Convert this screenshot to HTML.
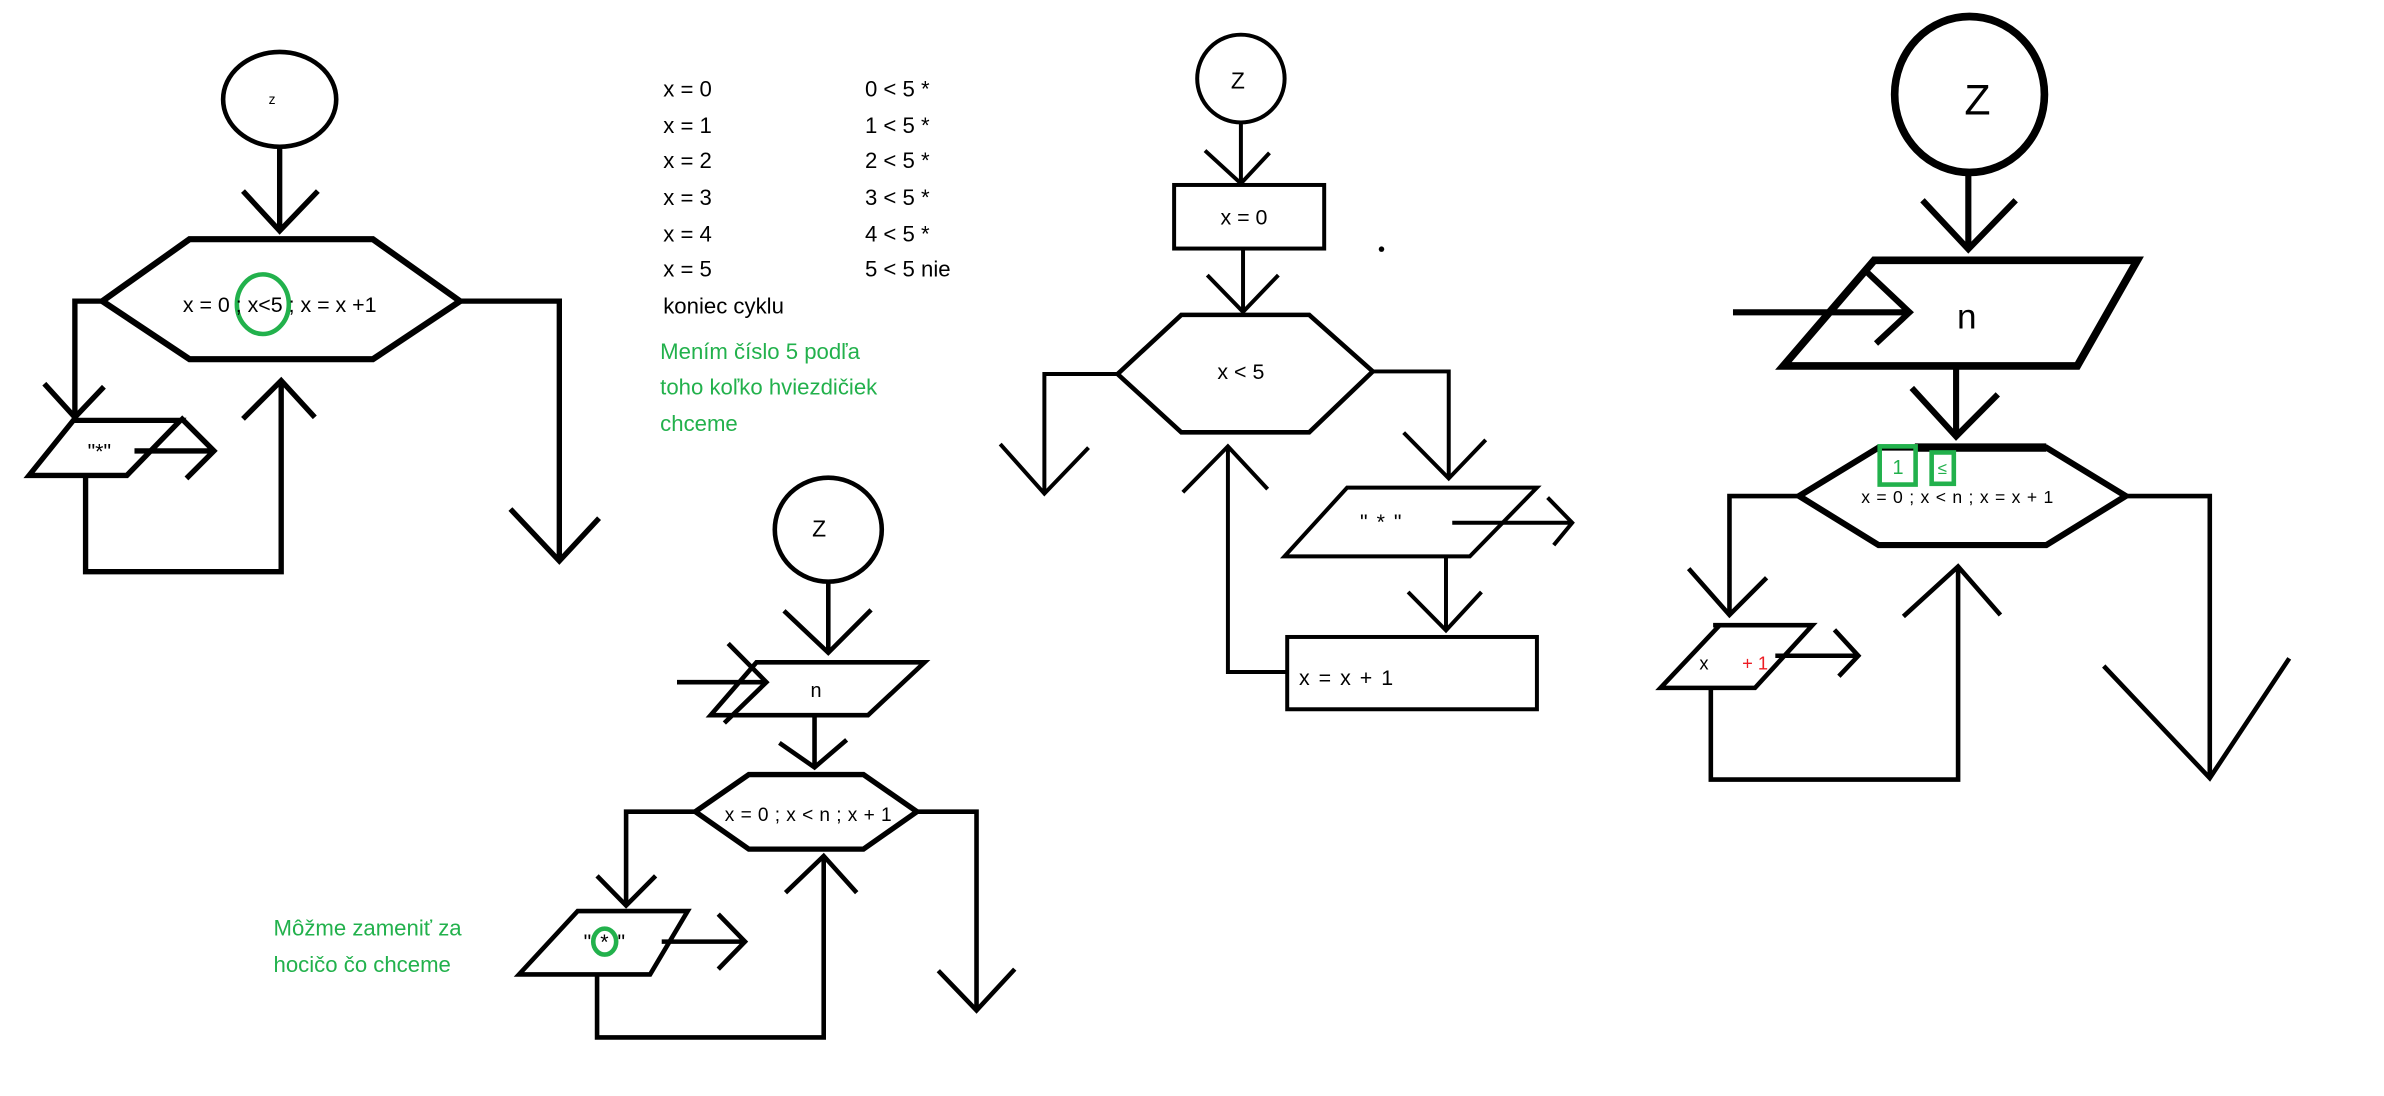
<!DOCTYPE html>
<html><head><meta charset="utf-8"><style>
html,body{margin:0;padding:0;background:#fff;}
svg{display:block;}
text{font-family:"Liberation Sans",sans-serif;fill:#000;}
.g{fill:#22b14c;}
</style></head><body>
<svg width="2384" height="1096" viewBox="0 0 1560 717" preserveAspectRatio="none" xmlns="http://www.w3.org/2000/svg">
<g fill="none" stroke="#000" stroke-linejoin="miter" stroke-linecap="butt">
<!-- Diagram 1 -->
<g stroke-width="3.5">
<ellipse cx="183" cy="65" rx="37" ry="31" stroke-width="3"/>
<path d="M183 96V151M159 125L183 151L208 125"/>
<path d="M67 197L124 156.5H244L301 197L244 235H124Z" stroke-width="4"/>
<path d="M67 197H49V273M29 251L49 273L68 253"/>
<path d="M48 275H118L83 311H19Z"/>
<path d="M88 295H140M118 273L140 295L122 313"/>
<path d="M56 311V374H184V249M159 274L184 249L206 273"/>
<path d="M301 197H366V367M334 333L366 367L392 339"/>
</g>
<ellipse cx="172" cy="199" rx="17" ry="19.5" stroke="#22b14c" stroke-width="3"/>
<!-- Diagram 3 -->
<g stroke-width="3">
<ellipse cx="542" cy="346.5" rx="35" ry="34"/>
<path d="M542 380V427M513 399.6L542 427L570 399"/>
<path d="M495 433.3H605L568 467.9H465Z"/>
<path d="M443 446.3H501.5M476.5 421L501.5 446.3L474 473"/>
<path d="M533 468V502M510 486L533 502L554 484"/>
<path d="M455 531L490 506.7H565L600 531L565 555.5H490Z" stroke-width="3.5"/>
<path d="M455 531H409.7V592.4M390.7 573L409.7 592.4L429 573"/>
<path d="M378 596H450L425.4 637.5H339.6Z"/>
<path d="M433 616H487.5M470 598L487.5 616L470 634"/>
<path d="M390.7 637.5V678.7H539V560M514 584L539 560L560.6 584"/>
<path d="M600 531H639V661M614 635L639 661L664 634"/>
</g>
<ellipse cx="395.7" cy="616" rx="7.5" ry="8.5" stroke="#22b14c" stroke-width="3"/>
<!-- Diagram 2 -->
<g stroke-width="2.6">
<ellipse cx="812" cy="51.4" rx="28.6" ry="28.7"/>
<path d="M812 80V120M788.5 98.5L812 120L830.7 100"/>
<rect x="768.3" y="121" width="98.2" height="41.6"/>
<path d="M813.4 162.6V204M790 180L813.4 204L836.5 180"/>
<path d="M731.3 244.7L773 206H856.7L898.3 243L856.7 282.8H773Z" stroke-width="3"/>
<path d="M731.3 244.7H683.4V322.9M654.5 290.5L683.4 322.9L712.3 292.8"/>
<path d="M898.3 243H948V313M918.5 283L948 313L972.2 287.8"/>
<path d="M881.5 319H1005.7L961.8 364H840.5Z"/>
<path d="M950.3 342H1028.8M1012.7 325.5L1028.8 342L1016.7 356.6"/>
<path d="M946.2 364V412.4M921.4 387.3L946.2 412.4L969.4 387.3"/>
<rect x="842.3" y="416.7" width="163.4" height="47.3"/>
<path d="M842.3 439.6H803.5V292M774 322L803.5 292L829.5 320"/>
</g>
<circle cx="904" cy="163" r="1.8" fill="#000" stroke="none"/>
<!-- Diagram 4 -->
<g stroke-width="4">
<ellipse cx="1288.8" cy="61.8" rx="49" ry="51" stroke-width="5"/>
<path d="M1288 113.5V163M1258 131L1288 163L1319 131"/>
<path d="M1226.4 170.3H1398.6L1359.3 239.4H1167Z" stroke-width="5"/>
<path d="M1134 204.3H1249.5M1220.6 177L1249.5 204.3L1227.6 224.7"/>
<path d="M1280 239.4V285.5M1251 253.8L1280 285.5L1307.3 258"/>
<path d="M1177.3 324.5L1229.3 292.8H1339L1391 324.5L1339 356.6H1229.3Z"/>
<path d="M1253 292.8H1339" stroke-width="5.5"/>
<path d="M1177.3 324.5H1131.7V402.3M1105 372L1131.7 402.3L1156 378" stroke-width="3"/>
<path d="M1121 409H1186L1148.4 450H1086.6L1125.3 409" stroke-width="3"/>
<path d="M1161.7 429H1216M1200.4 412L1216 429L1203.3 442.4" stroke-width="3"/>
<path d="M1119.5 450V510H1281.3V370.6M1245.5 403.3L1281.3 370.6L1309 402.3" stroke-width="3"/>
<path d="M1391 324.5H1446V509M1376.6 435.7L1446 509L1498 430.7" stroke-width="3"/>
</g>
<rect x="1230" y="292" width="23.5" height="25" stroke="#22b14c" stroke-width="3"/>
<rect x="1264" y="296" width="14.5" height="20.5" stroke="#22b14c" stroke-width="3"/>
</g>

<!-- Text diagram 1 -->
<text x="178" y="68" font-size="9" text-anchor="middle">z</text>
<text x="183" y="204" font-size="14" text-anchor="middle">x = 0 ; x&lt;5 ; x = x +1</text>
<text x="65" y="300" font-size="14" text-anchor="middle">"*"</text>
<g font-size="14.5">
<text x="434" y="63">x = 0</text><text x="566" y="63">0 &lt; 5 *</text>
<text x="434" y="87">x = 1</text><text x="566" y="87">1 &lt; 5 *</text>
<text x="434" y="110">x = 2</text><text x="566" y="110">2 &lt; 5 *</text>
<text x="434" y="134">x = 3</text><text x="566" y="134">3 &lt; 5 *</text>
<text x="434" y="158">x = 4</text><text x="566" y="158">4 &lt; 5 *</text>
<text x="434" y="181">x = 5</text><text x="566" y="181">5 &lt; 5 nie</text>
<text x="434" y="205">koniec cyklu</text>
<text class="g" x="432" y="235">Mením číslo 5 podľa</text>
<text class="g" x="432" y="258">toho koľko hviezdičiek</text>
<text class="g" x="432" y="282">chceme</text>
</g>
<!-- Diagram 3 text -->
<text x="536" y="351" font-size="15" text-anchor="middle">Z</text>
<text x="534" y="456" font-size="13" text-anchor="middle">n</text>
<text x="529" y="537" font-size="12.5" text-anchor="middle" letter-spacing="0.3">x = 0 ; x &lt; n ; x + 1</text>
<text x="396" y="621" font-size="14" text-anchor="middle" letter-spacing="1">" * "</text>
<text class="g" x="179" y="612" font-size="14.5">Môžme zameniť za</text>
<text class="g" x="179" y="636" font-size="14.5">hocičo čo chceme</text>
<!-- Diagram 2 text -->
<text x="810" y="58" font-size="15" text-anchor="middle">Z</text>
<text x="814" y="147" font-size="14" text-anchor="middle">x = 0</text>
<text x="812" y="248" font-size="14" text-anchor="middle">x &lt; 5</text>
<text x="904" y="346" font-size="14" text-anchor="middle" letter-spacing="1">" * "</text>
<text x="850" y="448" font-size="14" letter-spacing="1">x = x + 1</text>
<!-- Diagram 4 text -->
<text x="1294" y="75" font-size="28" text-anchor="middle">Z</text>
<text x="1287" y="215" font-size="23" text-anchor="middle">n</text>
<text x="1242" y="310" font-size="13" text-anchor="middle" class="g">1</text>
<text x="1271" y="310" font-size="11" text-anchor="middle" class="g">≤</text>
<text x="1281" y="329" font-size="11.5" text-anchor="middle" letter-spacing="0.5">x = 0 ; x &lt; n ; x = x + 1</text>
<text x="1115" y="438" font-size="12" text-anchor="middle">x</text>
<text x="1140" y="438" font-size="12" style="fill:#ed1c24">+ 1</text>
</svg>
</body></html>
